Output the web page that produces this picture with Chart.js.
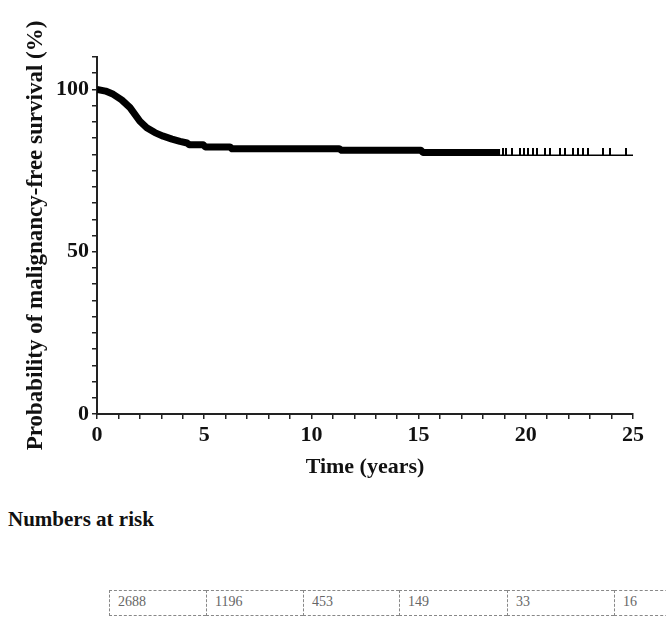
<!DOCTYPE html>
<html>
<head>
<meta charset="utf-8">
<script src="https://cdn.jsdelivr.net/npm/chart.js@4/dist/chart.umd.min.js"></script>
<style>
	body { margin: 0; background: #fff; }
	#wrap { position: relative; width: 666px; height: 618px; overflow: hidden; }
	#chart-box { position: absolute; left: 0; top: 0; width: 666px; height: 490px; }
	#risk-title { position: absolute; left: 8px; top: 507px; font: bold 21px "Liberation Serif", serif; line-height: 24px; color: #111; }
	#risk-row { position: absolute; left: 109px; top: 590px; display: flex; }
	#risk-row div {
		box-sizing: border-box; height: 26px; padding: 2px 0 0 8px;
		border-top: 1px dashed #888; border-bottom: 1px dashed #888; border-left: 1px dashed #888;
		font: 14px "Liberation Serif", serif; color: #666; line-height: 18px;
	}
</style>
</head>
<body>
<div id="wrap">
	<div id="chart-box"><canvas id="km-graph" width="666" height="490"></canvas></div>
	<div id="risk-title">Numbers at risk</div>
	<div id="risk-row"></div>
</div>
<script>
//curve (years, % malignancy-free)
let curveTime = [0, 0.4, 0.76, 1.15, 1.54, 2.0, 2.32, 2.7, 3.09, 3.5, 3.87, 4.2, 4.3, 4.95, 5.05, 6.2, 6.3, 11.3, 11.4, 15.1, 15.2, 18.8];
let curveSurv = [100, 99.5, 98.5, 96.8, 94.4, 90.2, 88.2, 86.7, 85.6, 84.7, 84.0, 83.5, 83.0, 83.0, 82.3, 82.3, 81.7, 81.7, 81.3, 81.3, 80.6, 80.6];
//tail after the dense censoring
let tailTime = [18.8, 25];
let tailSurv = [79.7, 79.7];
//censored observations in the tail
let censorTime = [18.92, 19.08, 19.34, 19.73, 19.92, 20.12, 20.35, 20.51, 20.9, 21.13, 21.6, 21.83, 22.22, 22.45, 22.68, 22.92, 23.61, 23.93, 24.67];
let censorSurv = [79.7, 79.7, 79.7, 79.7, 79.7, 79.7, 79.7, 79.7, 79.7, 79.7, 79.7, 79.7, 79.7, 79.7, 79.7, 79.7, 79.7, 79.7, 79.7];
//numbers at risk
let riskCounts = [2688, 1196, 453, 149, 33, 16];
let riskWidths = [97, 97, 96, 108, 107, 80];

let serif = "'Liberation Serif', 'Times New Roman', serif";

function toPoints(xs, ys) {
	return xs.map((x, i) => ({ x: x, y: ys[i] }));
}

//censor tick that sits on top of the line
let tick = document.createElement("canvas");
tick.width = 2;
tick.height = 14;
let tctx = tick.getContext("2d");
tctx.fillStyle = "#000";
tctx.fillRect(0, 0, 2, 7);

let kmChart = new Chart(document.getElementById("km-graph"), {
	type: "scatter",
	data: {
		datasets: [
			{
				data: toPoints(curveTime, curveSurv),
				showLine: true,
				borderColor: "#000",
				borderWidth: 7,
				borderJoinStyle: "round",
				pointRadius: 0,
			},
			{
				data: toPoints(tailTime, tailSurv),
				showLine: true,
				borderColor: "#000",
				borderWidth: 1.5,
				pointRadius: 0,
			},
			{
				data: toPoints(censorTime, censorSurv),
				pointStyle: tick,
				pointRadius: 7,
			},
		],
	},
	options: {
		responsive: false,
		animation: false,
		devicePixelRatio: 1,
		layout: { padding: { top: 57, right: 33, left: 0, bottom: 0 } },
		plugins: { legend: { display: false }, tooltip: { enabled: false } },
		scales: {
			x: {
				type: "linear",
				min: 0,
				max: 25,
				afterFit: (s) => { s.height = 76; },
				border: { color: "#222", width: 2 },
				grid: { drawOnChartArea: false, tickLength: 5, color: "#222", lineWidth: 1.5 },
				ticks: {
					stepSize: 1,
					autoSkip: false,
					maxRotation: 0,
					padding: 3,
					color: "#111",
					font: { family: serif, size: 22, weight: "bold" },
					callback: (v) => (v % 5 === 0 ? v : ""),
				},
				title: {
					display: true,
					text: "Time (years)",
					color: "#111",
					padding: { top: 0, bottom: 9 },
					font: { family: serif, size: 22, weight: "bold" },
				},
			},
			y: {
				min: 0,
				max: 110,
				afterFit: (s) => { s.width = 97; },
				border: { color: "#222", width: 2 },
				grid: { drawOnChartArea: false, tickLength: 5, color: "#222", lineWidth: 1.5 },
				ticks: {
					stepSize: 5,
					autoSkip: false,
					padding: 3,
					color: "#111",
					font: { family: serif, size: 22, weight: "bold" },
					callback: (v) => (v % 50 === 0 ? v : ""),
				},
				title: {
					display: true,
					text: "Probability of malignancy-free survival (%)",
					color: "#111",
					padding: { top: 22, bottom: 0 },
					font: { family: serif, size: 23, weight: "bold" },
				},
			},
		},
	},
});

//numbers at risk row
let row = document.getElementById("risk-row");
riskCounts.forEach((n, i) => {
	let cell = document.createElement("div");
	cell.style.width = riskWidths[i] + "px";
	cell.textContent = n;
	row.appendChild(cell);
});
</script>
</body>
</html>
